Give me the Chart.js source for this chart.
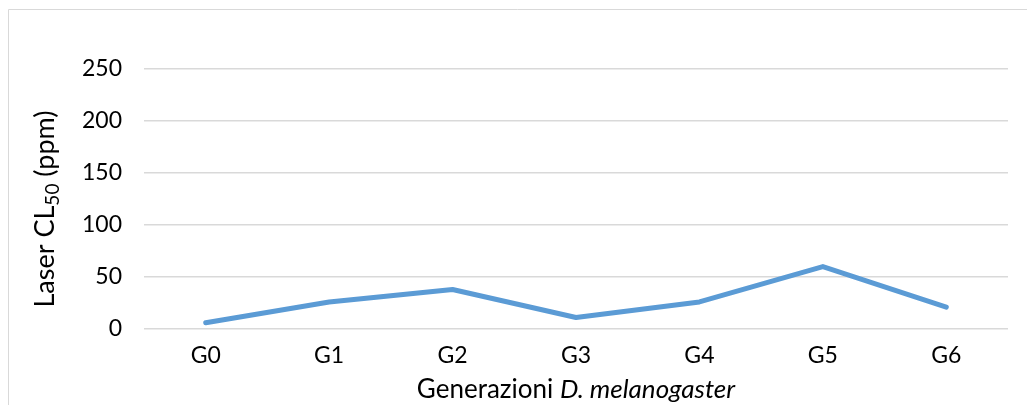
<!DOCTYPE html>
<html>
<head>
<meta charset="utf-8">
<script src="https://cdn.jsdelivr.net/npm/chart.js@4"></script>
<style>
html,body{margin:0;padding:0;background:#fff;}
#wrap{width:1027px;height:405px;position:relative;}
</style>
</head>
<body>
<div id="wrap"><canvas id="c" width="1027" height="405"></canvas></div>
<script>
const categories = ["G0","G1","G2","G3","G4","G5","G6"];
const laserCL50 = [6, 26, 38, 11, 26, 60, 21];
const yTicks = [0, 50, 100, 150, 200, 250];
const yTitleMain = "Laser CL";
const yTitleSub = "50";
const yTitleTail = " (ppm)";
const xTitleMain = "Generazioni ";
const xTitleItalic = "D. melanogaster";

const FONT = "Lato, 'Open Sans', sans-serif";

const decor = {
  id: 'decor',
  beforeDraw(chart) {
    const ctx = chart.ctx;
    ctx.save();
    ctx.strokeStyle = '#d9d9d9';
    ctx.lineWidth = 1;
    ctx.beginPath();
    ctx.moveTo(8.5, 405);
    ctx.lineTo(8.5, 9.5);
    ctx.lineTo(1027, 9.5);
    ctx.stroke();
    ctx.restore();
  },
  afterDraw(chart) {
    const ctx = chart.ctx;
    ctx.save();
    ctx.fillStyle = '#000';
    // y title with subscript
    ctx.translate(45, 209);
    ctx.rotate(-Math.PI / 2);
    ctx.textBaseline = 'middle';
    const big = "27px " + FONT, small = "19px " + FONT;
    ctx.font = big;
    const w1 = ctx.measureText(yTitleMain).width;
    const w3 = ctx.measureText(yTitleTail).width;
    ctx.font = small;
    const w2 = ctx.measureText(yTitleSub).width;
    let x = -(w1 + w2 + w3) / 2;
    ctx.font = big; ctx.textAlign = 'left';
    ctx.fillText(yTitleMain, x, 0); x += w1;
    ctx.font = small; ctx.fillText(yTitleSub, x, 8); x += w2;
    ctx.font = big; ctx.fillText(yTitleTail, x, 0);
    ctx.restore();
    // x title with italic
    ctx.save();
    ctx.fillStyle = '#000';
    ctx.textBaseline = 'middle';
    const xf = "26px " + FONT;
    ctx.font = xf;
    const a = ctx.measureText(xTitleMain).width;
    ctx.font = "italic " + xf;
    const b = ctx.measureText(xTitleItalic).width;
    const cx = (chart.chartArea.left + chart.chartArea.right) / 2;
    let xx = cx - (a + b) / 2;
    ctx.font = xf; ctx.textAlign = 'left';
    ctx.fillText(xTitleMain, xx, 390);
    ctx.font = "italic " + xf;
    ctx.fillText(xTitleItalic, xx + a, 390);
    ctx.restore();
  }
};

new Chart(document.getElementById('c'), {
  type: 'line',
  data: {
    labels: categories,
    datasets: [{
      data: laserCL50,
      borderColor: '#5b9bd5',
      borderWidth: 5,
      borderCapStyle: 'round',
      borderJoinStyle: 'round',
      pointRadius: 0,
      tension: 0,
      fill: false
    }]
  },
  options: {
    responsive: false,
    animation: false,
    devicePixelRatio: 1,
    layout: { padding: { top: 69, right: 19, left: 0, bottom: 0 } },
    plugins: { legend: { display: false }, tooltip: { enabled: false } },
    scales: {
      x: {
        offset: true,
        grid: { display: false, drawTicks: false },
        border: { display: false },
        ticks: { color: '#000', font: { family: FONT, size: 23 }, padding: 13, maxRotation: 0 },
        afterFit(s) { s.height = 76; }
      },
      y: {
        min: 0, max: 250,
        afterBuildTicks(s) { s.ticks = yTicks.map(v => ({ value: v })); },
        grid: { color: '#d9d9d9', lineWidth: 1.5, drawTicks: false },
        border: { display: false },
        ticks: { color: '#000', font: { family: FONT, size: 23 }, padding: 22 },
        afterFit(s) { s.width = 144; }
      }
    }
  },
  plugins: [decor]
});
</script>
</body>
</html>
